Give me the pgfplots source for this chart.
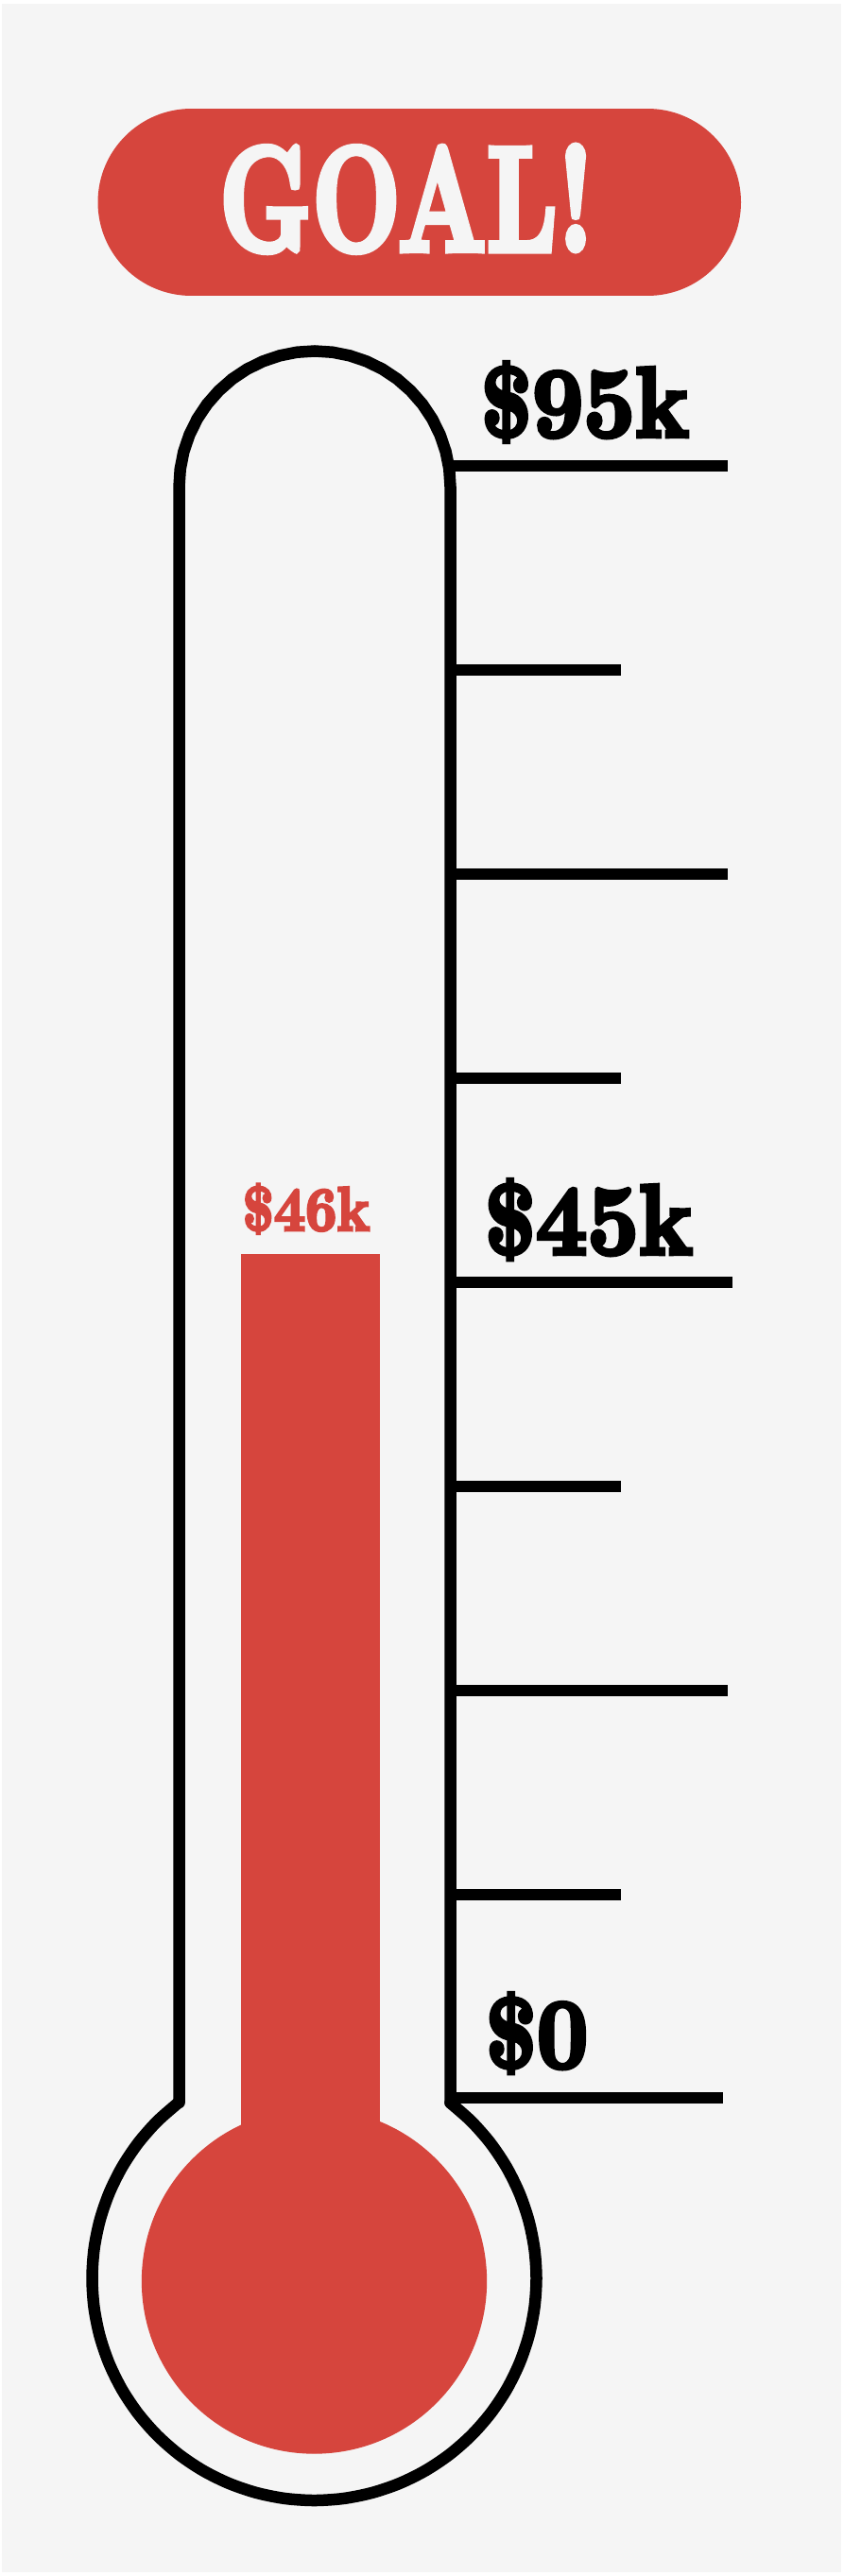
\documentclass[border=0pt]{standalone}
\usepackage{fontspec}
\usepackage{pgfplots}
\pgfplotsset{compat=1.18}
\definecolor{goalred}{RGB}{214,69,61}
\definecolor{paper}{RGB}{245,245,245}
\newfontfamily\fat{lmroman10-bold.otf}[FakeBold=4.5]
% 1 px of the reference = 0.3pt
\newcommand{\lbl}[1]{\scalebox{0.9}[1]{\fontsize{31.5}{32}\fat #1}}
\begin{document}
\begin{tikzpicture}
\begin{axis}[
    scale only axis,
    width=267.6pt,
    height=817.8pt,
    xmin=0, xmax=892,
    ymin=0, ymax=2726,
    y dir=reverse,
    hide axis,
    clip=false,
]
% page
\addplot[fill=white, draw=none] coordinates {(0,0) (892,0) (892,2726) (0,2726)} -- cycle;
\addplot[fill=paper, draw=none] coordinates {(2,4) (890,4) (890,2722) (2,2722)} -- cycle;

% GOAL! banner
\addplot[goalred, line width=59.4pt, line cap=round] coordinates {(202.5,214) (685,214)};
\node[anchor=base, inner sep=0pt, text=paper] at (axis cs:430,265)
    {\scalebox{0.69}[1]{\fontsize{47.2}{48}\fat GOAL!}};

% fill level ($46k)
\addplot[fill=goalred, draw=none] coordinates {(255,1327) (402,1327) (402,2300) (255,2300)} -- cycle;
\addplot[goalred, only marks, mark=*, mark size=54.6pt, mark options={draw=none}]
    coordinates {(332.5,2414)};

% thermometer outline: tube with rounded top
\addplot[black, line width=3.75pt, line cap=round] coordinates {
    (189.5,2225) (189.5,515)
    (190.73,496.27) (194.39,477.86) (200.42,460.09) (208.72,443.25) (219.15,427.64)
    (231.53,413.53) (245.64,401.15) (261.25,390.72) (278.09,382.42) (295.86,376.39)
    (314.27,372.73) (333,371.5) (351.73,372.73) (370.14,376.39) (387.91,382.42)
    (404.75,390.72) (420.36,401.15) (434.47,413.53) (446.85,427.64) (457.28,443.25)
    (465.58,460.09) (471.61,477.86) (475.27,496.27) (476.5,515)
    (476.5,2225)};
% bulb
\addplot[black, line width=3.75pt, line cap=round, smooth] coordinates {
    (476.5,2225.3)
    (498.67,2244.83) (518.94,2267.94) (536.02,2293.5) (549.61,2321.07) (559.51,2350.18)
    (565.49,2380.33) (567.5,2411) (565.49,2441.67) (559.51,2471.82) (549.61,2500.93)
    (536.02,2528.5) (518.94,2554.06) (498.67,2577.17) (475.56,2597.44) (450.0,2614.52)
    (422.43,2628.11) (393.32,2637.99) (363.17,2643.99) (332.5,2646) (301.83,2643.99)
    (271.68,2637.99) (242.57,2628.11) (215.0,2614.52) (189.44,2597.44) (166.33,2577.17)
    (146.06,2554.06) (128.98,2528.5) (115.39,2500.93) (105.51,2471.82) (99.51,2441.67)
    (97.5,2411) (99.51,2380.33) (105.51,2350.18) (115.39,2321.07) (128.98,2293.5)
    (146.06,2267.94) (166.33,2244.83) (189.44,2224.56)};

% scale ticks
\addplot[black, line width=3.6pt] coordinates {(477,493) (770,493)};
\addplot[black, line width=3.6pt] coordinates {(477,709) (657,709)};
\addplot[black, line width=3.6pt] coordinates {(477,925) (770,925)};
\addplot[black, line width=3.6pt] coordinates {(477,1141) (657,1141)};
\addplot[black, line width=3.6pt] coordinates {(477,1357) (775,1357)};
\addplot[black, line width=3.6pt] coordinates {(477,1573) (657,1573)};
\addplot[black, line width=3.6pt] coordinates {(477,1789) (770,1789)};
\addplot[black, line width=3.6pt] coordinates {(477,2005) (657,2005)};
\addplot[black, line width=3.6pt] coordinates {(477,2220) (765,2220)};

% labels
\node[anchor=base west, inner sep=0pt] at (axis cs:508,462) {\lbl{\$95k}};
\node[anchor=base west, inner sep=0pt] at (axis cs:512,1327) {\lbl{\$45k}};
\node[anchor=base west, inner sep=0pt] at (axis cs:513,2188) {\lbl{\$0}};
\node[anchor=base west, inner sep=0pt, text=goalred] at (axis cs:256,1302)
    {\scalebox{0.88}[1]{\fontsize{19.7}{20}\fat \$46k}};
\end{axis}
\end{tikzpicture}
\end{document}
